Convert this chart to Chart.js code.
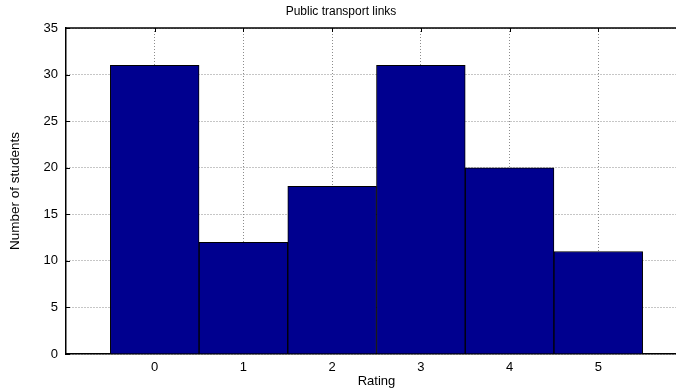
<!DOCTYPE html>
<html>
<head>
<meta charset="utf-8">
<script src="https://cdn.jsdelivr.net/npm/chart.js@4/dist/chart.umd.min.js"></script>
<style>
    html, body { margin: 0; padding: 0; background: #fff; overflow: hidden; }
    #wrap { width: 700px; height: 389px; }
</style>
</head>
<body>
<div id="wrap"><canvas id="hist" width="700" height="389"></canvas></div>
<script>
var ratings = [0, 1, 2, 3, 4, 5];
var students = [31, 12, 18, 31, 20, 11];
var yTicks = [0, 5, 10, 15, 20, 25, 30, 35];
var chartTitle = 'Public transport links';
var xLabel = 'Rating';
var yLabel = 'Number of students';

var FONT = '"Liberation Sans", Arial, sans-serif';

// matlab style frame: top border, inward ticks, title
var framePlugin = {
    id: 'frame',
    afterDraw: function (chart) {
        var ctx = chart.ctx;
        var area = chart.chartArea;
        var xs = chart.scales.x;
        var ys = chart.scales.y;
        ctx.save();
        ctx.strokeStyle = '#000';
        ctx.lineWidth = 1.5;
        ctx.beginPath();
        ctx.moveTo(area.left, area.top);
        ctx.lineTo(area.right, area.top);
        ctx.stroke();
        ctx.lineWidth = 1;
        ctx.beginPath();
        ratings.forEach(function (r) {
            var px = Math.round(xs.getPixelForValue(r)) + 0.5;
            ctx.moveTo(px, area.top);
            ctx.lineTo(px, area.top + 4);
        });
        yTicks.forEach(function (v) {
            var py = Math.round(ys.getPixelForValue(v)) + 0.5;
            ctx.moveTo(area.left, py);
            ctx.lineTo(area.left + 4, py);
        });
        ctx.stroke();
        ctx.fillStyle = '#000';
        ctx.font = '12px ' + FONT;
        ctx.textAlign = 'center';
        ctx.textBaseline = 'middle';
        ctx.fillText(chartTitle, 341, 12);
        ctx.restore();
    }
};

var points = ratings.map(function (r, i) {
    return { x: r, y: students[i] };
});

new Chart(document.getElementById('hist'), {
    type: 'bar',
    data: {
        datasets: [{
            data: points,
            backgroundColor: '#00008f',
            borderColor: '#000',
            borderWidth: 1,
            barPercentage: 1,
            categoryPercentage: 1
        }]
    },
    options: {
        responsive: false,
        maintainAspectRatio: false,
        devicePixelRatio: 1,
        animation: false,
        layout: { padding: { left: 0, top: 28, right: 13, bottom: 0 } },
        plugins: {
            legend: { display: false },
            title: { display: false },
            tooltip: { enabled: false }
        },
        scales: {
            x: {
                type: 'linear',
                min: -1,
                max: 6,
                offset: false,
                afterBuildTicks: function (scale) {
                    scale.ticks = ratings.map(function (v) { return { value: v }; });
                },
                afterFit: function (scale) { scale.height = 35; },
                ticks: {
                    color: '#000',
                    font: { family: FONT, size: 13 },
                    padding: 6,
                    maxRotation: 0
                },
                grid: {
                    offset: false,
                    color: '#8c8c8c',
                    lineWidth: 1,
                    drawTicks: false
                },
                border: { color: '#000', width: 1.5, dash: [1, 2] },
                title: {
                    display: true,
                    text: xLabel,
                    color: '#000',
                    font: { family: FONT, size: 13 },
                    padding: { top: 0, bottom: 0 }
                }
            },
            y: {
                min: 0,
                max: 35,
                afterBuildTicks: function (scale) {
                    scale.ticks = yTicks.map(function (v) { return { value: v }; });
                },
                afterFit: function (scale) { scale.width = 66; },
                ticks: {
                    color: '#000',
                    font: { family: FONT, size: 13 },
                    padding: 8
                },
                grid: {
                    color: '#8c8c8c',
                    lineWidth: 1,
                    drawTicks: false
                },
                border: { color: '#000', width: 1.5, dash: [1, 2] },
                title: {
                    display: true,
                    text: yLabel,
                    color: '#000',
                    font: { family: FONT, size: 13.5 },
                    padding: { top: 7, bottom: 0 }
                }
            }
        }
    },
    plugins: [framePlugin]
});
</script>
</body>
</html>
